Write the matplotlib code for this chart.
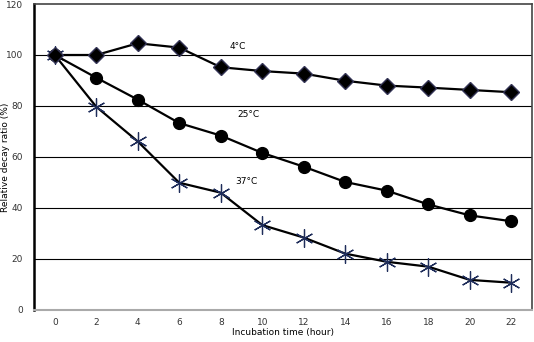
import matplotlib.pyplot as plt
import numpy as np

plt.rcParams['font.family'] = ['Liberation Sans Narrow', 'DejaVu Sans']

hours = [0, 2, 4, 6, 8, 10, 12, 14, 16, 18, 20, 22]
temp_4c = [100, 100, 104.6, 102.9, 95.2, 93.7, 92.7, 89.9, 88.0, 87.2, 86.3, 85.4]
temp_25c = [100, 91.1, 82.5, 73.3, 68.4, 61.6, 56.2, 50.2, 46.8, 41.4, 37.1, 34.8]
temp_37c = [100, 79.7, 66.1, 49.9, 46.0, 33.3, 28.4, 22.1, 18.9, 17.0, 11.8, 10.7]
yticks = [0, 20, 40, 60, 80, 100, 120]

fig = plt.figure(figsize=(5.34, 3.42), dpi=100)
ax = fig.add_axes([0.0637, 0.0936, 0.9326, 0.8947])

x = np.arange(len(hours))
for y in yticks[1:-1]:
    ax.axhline(y, color='black', lw=0.8, zorder=1)

ax.plot(x, temp_37c, color='black', lw=1.6, marker=(6, 2, 0), ms=13,
        mec='#1f2d5a', mew=0.9, zorder=3)
ax.plot(x, temp_25c, color='black', lw=1.6, marker='o', ms=8.5,
        mfc='black', mec='black', zorder=3)
ax.plot(x, temp_4c, color='black', lw=1.6, marker='D', ms=8.5,
        mfc='black', mec='#333355', zorder=4)

ax.text(4.2, 103.5, '4°C', fontsize=6.5, ha='left', va='center')
ax.text(4.4, 76.5, '25°C', fontsize=6.5, ha='left', va='center')
ax.text(4.35, 50.3, '37°C', fontsize=6.5, ha='left', va='center')

ax.set_xlim(-0.5, len(hours) - 0.5)
ax.set_ylim(0, 120)
ax.set_xticks(x)
ax.set_xticklabels([str(h) for h in hours])
ax.set_yticks(yticks)
ax.tick_params(axis='both', length=0, labelsize=6.5, colors='#333333')
ax.tick_params(axis='x', pad=6)
ax.tick_params(axis='y', pad=8)

fig.text(283 / 534, 1 - 333 / 342, 'Incubation time (hour)', fontsize=6.5,
         ha='center', va='center')
fig.text(6 / 534, 1 - 157 / 342, 'Relative decay ratio (%)', fontsize=6.5,
         ha='center', va='center', rotation=90)

ax.spines['left'].set_linewidth(1.8)
ax.spines['left'].set_color('black')
ax.spines['bottom'].set_color('#aaaaaa')
ax.spines['bottom'].set_linewidth(1.5)
ax.spines['top'].set_color('#444444')
ax.spines['top'].set_linewidth(1.2)
ax.spines['right'].set_color('#444444')
ax.spines['right'].set_linewidth(1.2)

fig.savefig('out.png', dpi=100)
